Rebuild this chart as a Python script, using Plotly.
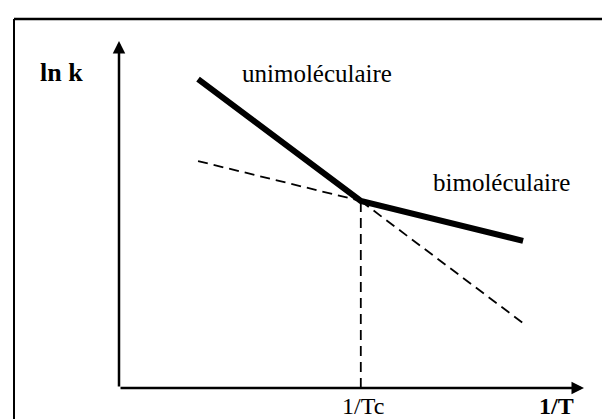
import plotly.graph_objects as go

# Schematic data (arbitrary units): x = 1/T, y = ln k
x_tc = 5.20                      # 1/Tc
uni_x = [1.70, 5.20]             # unimoléculaire regime (solid, steep)
uni_y = [8.90, 5.39]
bi_x = [5.20, 8.69]              # bimoléculaire regime (solid, shallow)
bi_y = [5.39, 4.24]
ext_bi_x = [1.70, 5.20]          # dashed extrapolation of bimoléculaire
ext_bi_y = [6.54, 5.39]
ext_uni_x = [5.20, 8.69]         # dashed extrapolation of unimoléculaire
ext_uni_y = [5.39, 1.87]
tick_labels = ["1/Tc", "<b>1/T</b>"]
tick_pos = [5.25, 9.82]
y_label = "<b>ln k</b>"
regime_labels = ["unimoléculaire", "bimoléculaire"]

FONT = "Liberation Serif"
X0, X1 = 0, 10
Y0, Y1 = 0, 10

# plot area (pixels)
L, R, T, B = 111, 576, 33, 380
W, H = 610, 419


def paper_x(pxl):
    return (pxl - L) / (R - L)


def paper_y(pyl):
    return (B - pyl) / (B - T)


def xfrac(v):
    return (v - X0) / (X1 - X0)


fig = go.Figure()
dash = "10px,6px"
for xs, ys in [(ext_bi_x, ext_bi_y), (ext_uni_x, ext_uni_y),
               ([x_tc, x_tc], [Y0, uni_y[1]])]:
    fig.add_trace(go.Scatter(x=xs, y=ys, mode="lines",
                             line=dict(color="black", width=1.8, dash=dash)))
fig.add_trace(go.Scatter(x=uni_x + bi_x[1:], y=uni_y + bi_y[1:], mode="lines",
                         line=dict(color="black", width=6)))

ann = []
ann.append(dict(x=X1, y=Y0, ax=X0, ay=Y0, xref="x", yref="y", axref="x", ayref="y",
                showarrow=True, arrowhead=2, arrowsize=1, arrowwidth=2.5,
                arrowcolor="black", text=""))
ann.append(dict(x=X0, y=Y1, ax=X0, ay=Y0, xref="x", yref="y", axref="x", ayref="y",
                showarrow=True, arrowhead=2, arrowsize=1, arrowwidth=2.5,
                arrowcolor="black", text=""))
ann.append(dict(x=paper_x(30), y=paper_y(64), xref="paper", yref="paper",
                xanchor="left", yanchor="middle", text=y_label,
                showarrow=False, font=dict(family=FONT, size=26, color="black")))
ann.append(dict(x=4.26, y=9.07, text=regime_labels[0], showarrow=False,
                font=dict(family=FONT, size=25, color="black")))
ann.append(dict(x=8.22, y=5.93, text=regime_labels[1], showarrow=False,
                font=dict(family=FONT, size=25, color="black")))
for t, p in zip(tick_labels, tick_pos):
    ann.append(dict(x=xfrac(p), y=paper_y(B + 18), xref="paper", yref="paper",
                    yanchor="middle", text=t,
                    showarrow=False, font=dict(family=FONT, size=24, color="black")))

fig.update_layout(
    width=W, height=H,
    margin=dict(l=L, r=W - R, t=T, b=H - B),
    paper_bgcolor="white", plot_bgcolor="white",
    showlegend=False,
    xaxis=dict(range=[X0, X1], visible=False, fixedrange=True),
    yaxis=dict(range=[Y0, Y1], visible=False, fixedrange=True),
    annotations=ann,
    shapes=[
        dict(type="line", xref="paper", yref="paper", x0=paper_x(6), x1=paper_x(640),
             y0=paper_y(11), y1=paper_y(11), line=dict(color="black", width=2.5)),
        dict(type="line", xref="paper", yref="paper", x0=paper_x(6), x1=paper_x(6),
             y0=paper_y(440), y1=paper_y(11), line=dict(color="black", width=2)),
    ],
)

fig.write_html("out.html")
